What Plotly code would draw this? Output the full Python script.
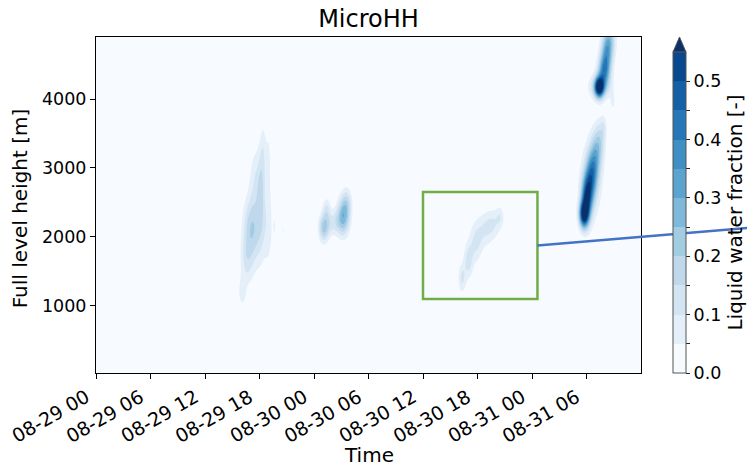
import numpy as np
import pandas as pd
import plotly.graph_objects as go

# ---- grid: hours after 08-29 00 UTC and full-level heights ----
T0 = pd.Timestamp("2018-08-29 00:00")
hours = np.arange(0.0, 60.01, 0.2)
heights = np.arange(25.0, 4926.0, 25.0)

# ---- cloud cores: time [h], height [m], peak fraction, spread in time [h], spread in height [m] ----
cloud_time = [16.1, 16.6, 17.0, 17.8, 18.2, 17.6, 18.4, 19.0, 19.0, 19.7, 20.6,
              25.1, 25.4, 26.1, 27.2, 27.6,
              40.3, 41.0, 41.8, 42.8, 43.8, 44.5,
              53.7, 54.0, 54.5, 55.0, 55.5, 55.9, 54.5,
              55.4, 55.5, 55.9, 56.2, 56.6, 56.9]
cloud_height = [1200, 1650, 2150, 2000, 2600, 2800, 3250, 3100, 2200, 2150, 2100,
                2130, 2400, 2200, 2280, 2500,
                1400, 1650, 1900, 2100, 2200, 2300,
                2320, 2550, 2850, 3150, 3400, 3600, 2800,
                4170, 4180, 4400, 4650, 4900, 3950]
cloud_peak = [0.08, 0.10, 0.14, 0.09, 0.12, 0.09, 0.07, 0.06, 0.07, 0.06, 0.06,
              0.22, 0.10, 0.10, 0.27, 0.12,
              0.11, 0.12, 0.10, 0.09, 0.08, 0.07,
              0.50, 0.45, 0.32, 0.20, 0.12, 0.07, 0.07,
              0.60, 0.14, 0.30, 0.28, 0.18, 0.06]
cloud_dt = [0.3, 0.5, 0.6, 0.7, 0.3, 0.5, 0.25, 0.2, 0.3, 0.12, 0.12,
            0.4, 0.3, 0.5, 0.5, 0.4,
            0.3, 0.35, 0.5, 0.7, 0.6, 0.3,
            0.35, 0.4, 0.45, 0.45, 0.4, 0.25, 1.0,
            0.35, 0.9, 0.45, 0.45, 0.45, 0.2]
cloud_dh = [150, 250, 300, 350, 400, 350, 300, 350, 400, 200, 100,
            140, 120, 120, 180, 150,
            150, 180, 200, 180, 150, 100,
            130, 220, 250, 250, 200, 120, 450,
            100, 130, 150, 200, 200, 100]

# liquid water fraction field on the time-height grid
tt, hh = np.meshgrid(hours, heights)
ql = np.zeros_like(tt)
for tc, hc, pk, dt, dh in zip(cloud_time, cloud_height, cloud_peak, cloud_dt, cloud_dh):
    ql += pk * np.exp(-0.5 * ((tt - tc) / dt) ** 2 - 0.5 * ((hh - hc) / dh) ** 2)

times = T0 + pd.to_timedelta(hours, unit="h")

# ---- colour levels (Blues, 0.05 steps, extended above 0.55) ----
level_step = 0.05
level_max = 0.55
n_bands = 11
BLUES = ["#f7fbff", "#deebf7", "#c6dbef", "#9ecae1", "#6baed6",
         "#4292c6", "#2171b5", "#08519c", "#08306b"]


def hex_rgb(h):
    return [int(h[i:i + 2], 16) for i in (1, 3, 5)]


def blues(f):
    pos = f * 8
    i = min(int(pos), 7)
    w = pos - i
    a, b = hex_rgb(BLUES[i]), hex_rgb(BLUES[i + 1])
    return "rgb(%d,%d,%d)" % tuple(round(a[k] + (b[k] - a[k]) * w) for k in range(3))


blues_scale = [[k / 8, BLUES[k]] for k in range(9)]
band_colors = [blues(i / n_bands) for i in range(n_bands)]
over_color = blues(1.0)
step_scale = []
for i, c in enumerate(band_colors):
    step_scale += [[i / n_bands, c], [(i + 1) / n_bands, c]]

FONT = "DejaVu Sans"
TICK_SIZE = 17.5
XTICK_SIZE = 19
LABEL_SIZE = 20
TITLE_SIZE = 24

fig = go.Figure()
fig.add_trace(go.Contour(
    x=times, y=heights, z=ql,
    autocontour=False,
    contours=dict(start=level_step, end=level_max, size=level_step,
                  coloring="fill", showlines=False),
    colorscale=blues_scale,
    line=dict(width=0),
    showscale=False,
    hoverinfo="skip",
))

# colourbar carrier
cb_ticks = [round(i * level_step, 2) for i in range(n_bands)]
cb_text = ["%.1f" % v if i % 2 == 0 else "" for i, v in enumerate(cb_ticks)]
fig.add_trace(go.Scatter(
    x=[None], y=[None], mode="markers", showlegend=False,
    marker=dict(color=[0], cmin=0, cmax=level_max, colorscale=step_scale,
                showscale=True,
                colorbar=dict(
                    x=1.0587, xanchor="left", xpad=0,
                    y=0, yanchor="bottom", ypad=0,
                    len=0.955, lenmode="fraction",
                    thickness=13, outlinewidth=1, outlinecolor="#555555",
                    ticks="outside", ticklen=4, tickwidth=1, tickcolor="#222222",
                    tickvals=cb_ticks, ticktext=cb_text,
                    tickfont=dict(family=FONT, size=TICK_SIZE, color="black"),
                    title=dict(text="Liquid water fraction [-]", side="right",
                               font=dict(family=FONT, size=LABEL_SIZE, color="black")),
                )),
))

# date ticks every 6 h, labels rotated and right-aligned under each tick
tick_hours = list(range(0, 55, 6))
tick_times = [T0 + pd.Timedelta(hours=h) for h in tick_hours]
tick_labels = [t.strftime("%m-%d %H") for t in tick_times]

annotations = [
    dict(text=lab, x=t, y=0, xref="x", yref="paper",
         showarrow=False, textangle=-30, xanchor="right", yanchor="top",
         xshift=-2, yshift=-11, borderpad=0,
         font=dict(family=FONT, size=XTICK_SIZE, color="black"))
    for t, lab in zip(tick_times, tick_labels)
]
annotations += [
    dict(text="Time", x=0.5, y=-0.244, xref="paper", yref="paper",
         showarrow=False, xanchor="center", yanchor="middle",
         font=dict(family=FONT, size=LABEL_SIZE)),
    dict(text="Full level height [m]", x=-0.1395, y=0.49, xref="paper", yref="paper",
         showarrow=False, textangle=-90, xanchor="center", yanchor="middle",
         font=dict(family=FONT, size=LABEL_SIZE)),
]

fig.update_layout(
    width=747, height=466,
    margin=dict(l=96, r=106, t=37, b=93, autoexpand=False),
    paper_bgcolor="white", plot_bgcolor=BLUES[0],
    font=dict(family=FONT, size=TICK_SIZE, color="black"),
    showlegend=False,
    title=dict(text="MicroHH", x=0.5, xref="paper", xanchor="center",
               y=1 - 19 / 466, yanchor="middle",
               font=dict(family=FONT, size=TITLE_SIZE, color="black")),
    xaxis=dict(type="date",
               range=[T0, T0 + pd.Timedelta(hours=60)],
               tickvals=tick_times, showticklabels=False,
               ticks="outside", ticklen=5, tickcolor="black",
               showline=True, mirror=True, linecolor="black", linewidth=1,
               showgrid=False, zeroline=False, automargin=False),
    yaxis=dict(range=[25, 4900], tickvals=[1000, 2000, 3000, 4000],
               ticks="outside", ticklen=5, tickcolor="black",
               showline=True, mirror=True, linecolor="black", linewidth=1,
               showgrid=False, zeroline=False, automargin=False,
               tickfont=dict(family=FONT, size=TICK_SIZE)),
    annotations=annotations,
    shapes=[
        # extension triangle on top of the colourbar
        dict(type="path", xref="paper", yref="paper",
             path="M 1.0587 0.955 L 1.0826 0.955 L 1.07065 1.0 Z",
             fillcolor=over_color, line=dict(color="#555555", width=1)),
        # highlighted region
        dict(type="rect", xref="x", yref="y",
             x0=T0 + pd.Timedelta(hours=36), x1=T0 + pd.Timedelta(hours=48.6),
             y0=1100, y1=2650,
             line=dict(color="#70ad47", width=2.5)),
        # connector to the zoomed view
        dict(type="line", xref="paper", yref="paper",
             x0=0.81, y0=0.3793, x1=1.2734, y1=0.4426,
             line=dict(color="#4472c4", width=2.5)),
    ],
)

fig.write_html("out.html")
